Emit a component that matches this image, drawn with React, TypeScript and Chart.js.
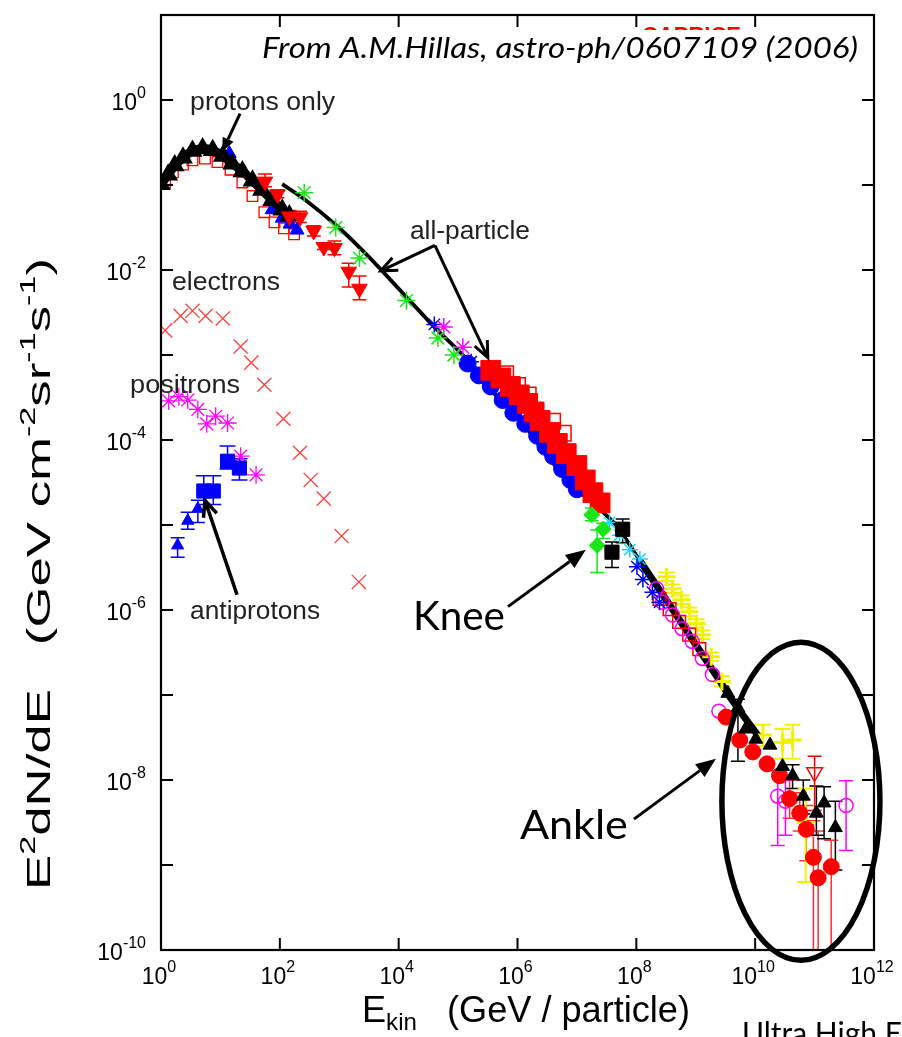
import React, { useEffect, useRef } from "react";
import { Chart, registerables } from "chart.js";
Chart.register(...registerables);

// ---------- axes (log10 exponents) ----------
const xLabelExps = [0, 2, 4, 6, 8, 10, 12];
const xTickExps = [2, 4, 6, 8, 10];
const yLabelExps = [0, -2, -4, -6, -8, -10];
const yTickExps = [0, -1, -2, -3, -4, -5, -6, -7, -8, -9];

// ---------- data: log10(E / GeV) and log10(E^2 dN/dE) ----------
const protonsOnlyLogE = [0.0, 0.12, 0.23, 0.37, 0.53, 0.7, 0.87, 1.04, 1.2, 1.37, 1.54, 1.7, 1.87, 2.04, 2.16];
const protonsOnlyLogF = [-0.99, -0.88, -0.77, -0.68, -0.6, -0.57, -0.59, -0.66, -0.75, -0.84, -0.95, -1.06, -1.18, -1.29, -1.36];

const protonsSqLogE = [0.07, 0.2, 0.37, 0.53, 0.74, 0.95, 1.17, 1.37, 1.54, 1.74, 1.91, 2.07, 2.24];
const protonsSqLogF = [-0.97, -0.85, -0.76, -0.71, -0.69, -0.73, -0.82, -0.97, -1.13, -1.32, -1.44, -1.51, -1.58];

const protonsBlueLogE = [1.15, 1.87, 2.04, 2.17, 2.29];
const protonsBlueLogF = [-0.63, -1.29, -1.39, -1.46, -1.53];

const protonsTriLogE = [1.75, 1.96, 2.16, 2.34, 2.57, 2.74, 2.92, 3.16, 3.34];
const protonsTriLogF = [-0.96, -1.11, -1.37, -1.38, -1.54, -1.73, -1.74, -2.02, -2.22];
const protonsTriLo = [-1.02, -1.15, -1.42, -1.44, -1.6, -1.76, -1.82, -2.2, -2.35];
const protonsTriHi = [-0.87, -1.06, -1.3, -1.31, -1.48, -1.7, -1.66, -1.92, -2.07];

const allParticleLogE = [2.04, 2.42, 2.99, 3.49, 4.04, 4.6, 5.16, 5.43, 6.0, 6.5, 6.94, 7.39, 7.67, 8.06, 8.55, 9.06, 9.39, 9.61, 10.06];
const allParticleLogF = [-0.99, -1.17, -1.5, -1.84, -2.25, -2.67, -3.06, -3.33, -3.72, -4.19, -4.54, -4.82, -5.01, -5.42, -5.93, -6.47, -6.82, -7.06, -7.49];

const greenAstLogE = [2.41, 2.94, 3.34, 4.13, 4.66, 4.93];
const greenAstLogF = [-1.09, -1.5, -1.86, -2.36, -2.8, -3.0];
const magentaAstLogE = [4.76, 5.08];
const magentaAstLogF = [-2.67, -2.91];
const blueAstLogE = [4.6, 5.22];
const blueAstLogF = [-2.64, -3.08];

const electronsLogE = [0.07, 0.33, 0.53, 0.75, 1.04, 1.34, 1.52, 1.74, 2.06, 2.34, 2.52, 2.74, 3.04, 3.33];
const electronsLogF = [-2.71, -2.54, -2.48, -2.54, -2.57, -2.9, -3.09, -3.35, -3.75, -4.15, -4.47, -4.69, -5.13, -5.67];

const positronsLogE = [0.13, 0.3, 0.45, 0.62, 0.77, 0.92, 1.12, 1.34, 1.6];
const positronsLogF = [-3.54, -3.49, -3.53, -3.64, -3.81, -3.72, -3.8, -4.19, -4.41];

const antiTriLogE = [0.28, 0.45, 0.62];
const antiTriLogF = [-5.24, -4.95, -4.81];
const antiTriLo = [-5.38, -5.05, -4.97];
const antiTriHi = [-5.15, -4.85, -4.71];

const antiSqLogE = [0.72, 0.88, 1.12, 1.32];
const antiSqLogF = [-4.6, -4.6, -4.25, -4.33];
const antiSqLo = [-4.76, -4.76, -4.34, -4.47];
const antiSqHi = [-4.42, -4.42, -4.07, -4.22];

const blueBandLogE = [5.16, 5.35, 5.55, 5.75, 5.93, 6.13, 6.33, 6.47, 6.6, 6.75, 6.89, 7.0];
const blueBandLogF = [-3.1, -3.24, -3.37, -3.53, -3.68, -3.81, -3.95, -4.08, -4.19, -4.34, -4.47, -4.58];

const redBandLogE = [5.55, 5.72, 5.88, 6.03, 6.17, 6.28, 6.38, 6.54, 6.67, 6.82, 7.0, 7.14, 7.27, 7.39];
const redBandLogF = [-3.18, -3.27, -3.37, -3.47, -3.57, -3.67, -3.77, -3.91, -4.04, -4.16, -4.3, -4.47, -4.62, -4.74];

const redOpenBandLogE = [5.8, 6.0, 6.18, 6.59, 6.77];
const redOpenBandLogF = [-3.22, -3.36, -3.47, -3.78, -3.92];

const kneeDiamondLogE = [7.25, 7.44, 7.34];
const kneeDiamondLogF = [-4.88, -5.05, -5.24];
const kneeDiamondLo = [-4.95, -5.16, -5.56];
const kneeDiamondHi = [-4.8, -4.98, -5.06];

const kneeSquareLogE = [7.77, 7.59];
const kneeSquareLogF = [-5.05, -5.32];
const kneeSquareLo = [-5.21, -5.5];
const kneeSquareHi = [-4.93, -5.2];

const cyanLogE = [7.55, 7.72, 7.89, 8.06];
const cyanLogF = [-4.97, -5.12, -5.29, -5.4];

const blueStarLogE = [8.01, 8.11, 8.27, 8.39];
const blueStarLogF = [-5.49, -5.64, -5.79, -5.91];

const yellowLogE = [8.51, 8.61, 8.76, 8.89, 9.01, 9.11, 9.26, 9.44, 10.13, 10.46, 10.63, 10.85];
const yellowLogF = [-5.61, -5.75, -5.88, -6.02, -6.16, -6.29, -6.55, -6.84, -7.47, -7.56, -7.53, -8.5];
const yellowLo = [-5.66, -5.8, -5.93, -6.07, -6.21, -6.34, -6.6, -6.9, -7.6, -7.75, -7.75, -9.2];
const yellowHi = [-5.56, -5.7, -5.83, -5.97, -6.11, -6.24, -6.5, -6.78, -7.35, -7.4, -7.35, -8.1];

const magentaOpenLogE = [8.34, 8.44, 8.61, 8.77, 8.94, 9.11, 9.28, 9.39];
const magentaOpenLogF = [-5.75, -5.91, -6.06, -6.22, -6.37, -6.57, -6.76, -7.19];

const redOpenLogE = [8.39, 8.56, 8.72, 8.89, 9.06];
const redOpenLogF = [-5.87, -5.99, -6.14, -6.29, -6.46];

const uheTriLogE = [9.54, 9.71, 9.84, 10.01, 10.25, 10.46, 10.63, 10.81, 11.03, 11.16, 11.35];
const uheTriLogF = [-6.98, -7.15, -7.4, -7.52, -7.59, -7.84, -7.95, -8.19, -8.39, -8.27, -8.56];
const uheTriLo = [null, -7.78, null, null, null, null, -8.1, -8.4, -8.65, -8.69, -9.06];
const uheTriHi = [null, -7.05, null, null, null, null, -7.82, -8.0, -8.07, -8.08, -8.25];

const uheRedLogE = [9.51, 9.74, 9.96, 10.2, 10.41, 10.58, 10.75, 10.86, 10.98, 11.06, 11.28];
const uheRedLogF = [-7.26, -7.53, -7.67, -7.81, -7.95, -8.22, -8.39, -8.58, -8.91, -9.15, -9.02];
const uheRedLo = [null, null, null, null, null, -8.45, -8.6, -8.95, -10, -10, -10];
const uheRedHi = [null, null, null, null, null, -8.0, -8.15, -8.3, -8.48, -8.6, -8.71];

const uheMagLogE = [10.38, 10.51, 11.53];
const uheMagLogF = [-8.19, -8.25, -8.3];
const uheMagLo = [-8.77, -8.65, -8.83];
const uheMagHi = [-7.89, -8.0, -8.01];

const uheInvLogE = [11.0];
const uheInvLogF = [-7.91];
const uheInvLo = [-8.36];
const uheInvHi = [-7.72];

// ---------- text ----------
const titleText = "From A.M.Hillas, astro-ph/0607109 (2006)";
const labelProtons = "protons only";
const labelAll = "all-particle";
const labelElectrons = "electrons";
const labelPositrons = "positrons";
const labelAnti = "antiprotons";
const labelKnee = "Knee";
const labelAnkle = "Ankle";
const labelUHE = "Ultra High Energy";

type Pt = { x: number; y: number; lo?: number; hi?: number };
function pts(le: number[], lf: number[], lo?: (number | null)[], hi?: (number | null)[]): Pt[] {
  return le.map((e, i) => {
    const p: Pt = { x: Math.pow(10, e), y: Math.pow(10, lf[i]) };
    if (lo && hi && lo[i] != null && hi[i] != null) {
      p.lo = Math.pow(10, lo[i] as number);
      p.hi = Math.pow(10, hi[i] as number);
    }
    return p;
  });
}

const RED = "#ff0000";
const BLUE = "#0000ff";
const GREEN = "#19e619";
const MAG = "#ff00ff";
const CYAN = "#18d8f0";
const YEL = "#f2f200";
const BLK = "#000000";
const NONE = "rgba(0,0,0,0)";

function mk(label: string, data: Pt[], o: any) {
  return { label, data, ...o };
}

type Seg = { t: string; size: number; dy?: number };
function drawRich(ctx: CanvasRenderingContext2D, segs: Seg[], x: number, y: number, family: string, style: string, align: string, targetW?: number) {
  let total = 0;
  const ws: number[] = [];
  for (const s of segs) {
    ctx.font = `${style}${s.size}px ${family}`;
    const w = ctx.measureText(s.t).width;
    ws.push(w);
    total += w;
  }
  const sc = targetW ? targetW / total : 1;
  const W = total * sc;
  const sx = align === "center" ? x - W / 2 : align === "right" ? x - W : x;
  ctx.save();
  ctx.translate(sx, y);
  ctx.scale(sc, 1);
  ctx.textAlign = "left";
  ctx.textBaseline = "alphabetic";
  let cx = 0;
  segs.forEach((s, i) => {
    ctx.font = `${style}${s.size}px ${family}`;
    ctx.fillText(s.t, cx, s.dy || 0);
    cx += ws[i];
  });
  ctx.restore();
}

function arrow(ctx: CanvasRenderingContext2D, x1: number, y1: number, x2: number, y2: number, filled: boolean, lw: number, head: number, hw: number) {
  const a = Math.atan2(y2 - y1, x2 - x1);
  const bx = x2 - head * Math.cos(a);
  const by = y2 - head * Math.sin(a);
  ctx.save();
  ctx.lineWidth = lw;
  ctx.strokeStyle = "#000";
  ctx.fillStyle = "#000";
  ctx.beginPath();
  ctx.moveTo(x1, y1);
  ctx.lineTo(filled ? bx : x2, filled ? by : y2);
  ctx.stroke();
  const lx = bx + hw * Math.sin(a), ly = by - hw * Math.cos(a);
  const rx = bx - hw * Math.sin(a), ry = by + hw * Math.cos(a);
  ctx.beginPath();
  if (filled) {
    ctx.moveTo(x2, y2);
    ctx.lineTo(lx, ly);
    ctx.lineTo(rx, ry);
    ctx.closePath();
    ctx.fill();
  } else {
    ctx.moveTo(lx, ly);
    ctx.lineTo(x2, y2);
    ctx.lineTo(rx, ry);
    ctx.stroke();
  }
  ctx.restore();
}

const errorBars = {
  id: "errorBars",
  beforeDatasetsDraw(chart: any) {
    const ctx: CanvasRenderingContext2D = chart.ctx;
    const xs = chart.scales.x, ys = chart.scales.y;
    const a = chart.chartArea;
    ctx.save();
    ctx.beginPath();
    ctx.rect(a.left, a.top, a.right - a.left, a.bottom - a.top);
    ctx.clip();
    chart.data.datasets.forEach((ds: any) => {
      if (!ds.errColor) return;
      ctx.strokeStyle = ds.errColor;
      ctx.lineWidth = ds.errWidth || 1.5;
      const c = ds.errCap ?? 5;
      ctx.beginPath();
      for (const p of ds.data) {
        if (p.lo == null) continue;
        const px = xs.getPixelForValue(p.x);
        const y1 = ys.getPixelForValue(p.lo);
        const y2 = ys.getPixelForValue(p.hi);
        ctx.moveTo(px, y1); ctx.lineTo(px, y2);
        ctx.moveTo(px - c, y1); ctx.lineTo(px + c, y1);
        ctx.moveTo(px - c, y2); ctx.lineTo(px + c, y2);
      }
      ctx.stroke();
    });
    ctx.restore();
  },
};

const decor = {
  id: "decor",
  afterDraw(chart: any) {
    const ctx: CanvasRenderingContext2D = chart.ctx;
    const xs = chart.scales.x, ys = chart.scales.y;
    const a = chart.chartArea;
    const X = (le: number) => xs.getPixelForValue(Math.pow(10, le));
    const Y = (lf: number) => ys.getPixelForValue(Math.pow(10, lf));
    const sans = "'Liberation Sans', Arial, sans-serif";
    const hum = "Lato, 'Open Sans', sans-serif";

    // partially hidden red label at the top
    ctx.save();
    ctx.beginPath();
    ctx.rect(600, a.top + 10, 200, 5);
    ctx.clip();
    ctx.fillStyle = RED;
    ctx.font = `bold 22px ${sans}`;
    ctx.textBaseline = "top";
    ctx.fillText("CAPRICE", 642, a.top + 10);
    ctx.restore();

    // frame & ticks
    ctx.save();
    ctx.strokeStyle = "#000";
    ctx.lineWidth = 2.2;
    ctx.strokeRect(a.left, a.top, a.right - a.left, a.bottom - a.top);
    ctx.lineWidth = 2;
    ctx.beginPath();
    for (const e of xTickExps) {
      const x = X(e);
      ctx.moveTo(x, a.bottom); ctx.lineTo(x, a.bottom - 12);
      ctx.moveTo(x, a.top); ctx.lineTo(x, a.top + 12);
    }
    for (const e of yTickExps) {
      const y = Y(e);
      ctx.moveTo(a.left, y); ctx.lineTo(a.left + 12, y);
      ctx.moveTo(a.right, y); ctx.lineTo(a.right - 12, y);
    }
    ctx.stroke();
    ctx.restore();

    // tick labels
    ctx.fillStyle = "#000";
    for (const e of yLabelExps) {
      drawRich(ctx, [{ t: "10", size: 23 }, { t: String(e), size: 16, dy: -12 }], a.left - 15, Y(e) + 10, sans, "", "right");
    }
    for (const e of xLabelExps) {
      drawRich(ctx, [{ t: "10", size: 23 }, { t: String(e), size: 16, dy: -12 }], X(e) - 2, a.bottom + 34, sans, "", "center");
    }

    // axis titles
    drawRich(ctx, [{ t: "E", size: 36 }, { t: "kin", size: 24, dy: 8 }, { t: "   (GeV / particle)", size: 36 }], 362, 1022, sans, "", "left", 328);
    ctx.save();
    ctx.translate(50, 890);
    ctx.rotate(-Math.PI / 2);
    drawRich(ctx, [
      { t: "E", size: 34 }, { t: "2", size: 22, dy: -15 }, { t: "dN/dE   (GeV cm", size: 34 },
      { t: "-2", size: 22, dy: -15 }, { t: "sr", size: 34 }, { t: "-1", size: 22, dy: -15 },
      { t: "s", size: 34 }, { t: "-1", size: 22, dy: -15 }, { t: ")", size: 34 },
    ], 0, 0, sans, "", "left", 632);
    ctx.restore();

    // title
    ctx.fillStyle = "#000";
    drawRich(ctx, [{ t: titleText, size: 28 }], 262, 58, hum, "italic ", "left", 596);

    // inline labels
    ctx.fillStyle = "#222";
    drawRich(ctx, [{ t: labelProtons, size: 26 }], X(0.49), Y(-0.117), sans, "", "left", 145);
    drawRich(ctx, [{ t: labelAll, size: 26 }], X(4.19), Y(-1.64), sans, "", "left", 120);
    drawRich(ctx, [{ t: labelElectrons, size: 26 }], X(0.185), Y(-2.24), sans, "", "left", 108);
    drawRich(ctx, [{ t: labelPositrons, size: 26 }], X(-0.52), Y(-3.45), sans, "", "left", 110);
    drawRich(ctx, [{ t: labelAnti, size: 26 }], X(0.49), Y(-6.1), sans, "", "left", 130);
    ctx.fillStyle = "#000";
    drawRich(ctx, [{ t: labelKnee, size: 40 }], X(4.24), Y(-6.24), hum, "", "left", 92);
    drawRich(ctx, [{ t: labelAnkle, size: 40 }], X(6.04), Y(-8.69), hum, "", "left", 108);
    drawRich(ctx, [{ t: labelUHE, size: 30 }], 742, 1044, hum, "", "left");

    // arrows
    arrow(ctx, X(1.33), Y(-0.16), X(1.03), Y(-0.61), true, 3, 14, 6);
    arrow(ctx, X(4.61), Y(-1.71), X(3.7), Y(-2.01), false, 3, 16, 7);
    arrow(ctx, X(4.61), Y(-1.71), X(5.5), Y(-3.03), false, 3, 16, 7);
    arrow(ctx, X(1.28), Y(-5.82), X(0.74), Y(-4.71), false, 3.5, 16, 7);
    arrow(ctx, X(5.84), Y(-5.96), X(7.15), Y(-5.29), true, 3, 20, 8);
    arrow(ctx, X(7.96), Y(-8.46), X(9.34), Y(-7.75), true, 3, 20, 8);

    // ellipse around the UHE region
    const cx = X(10.77), cy = Y(-8.25);
    const rx = cx - X(9.44), ry = cy - Y(-6.38);
    ctx.save();
    ctx.lineWidth = 5.5;
    ctx.strokeStyle = "#000";
    ctx.beginPath();
    ctx.ellipse(cx, cy, rx, ry, 0, 0, Math.PI * 2);
    ctx.stroke();
    ctx.restore();
  },
};

function buildConfig(): any {
  const datasets = [
    mk("UHE red circles", pts(uheRedLogE, uheRedLogF, uheRedLo, uheRedHi), { pointStyle: "circle", pointRadius: 8, backgroundColor: RED, borderColor: RED, borderWidth: 1, errColor: "#ff3030", errWidth: 1.5, errCap: 7, order: 2 }),
    mk("UHE triangles", pts(uheTriLogE, uheTriLogF, uheTriLo, uheTriHi), { pointStyle: "triangle", pointRadius: 8, backgroundColor: BLK, borderColor: BLK, borderWidth: 1, errColor: BLK, errWidth: 1.5, errCap: 7, order: 1 }),
    mk("UHE magenta", pts(uheMagLogE, uheMagLogF, uheMagLo, uheMagHi), { pointStyle: "circle", pointRadius: 7, backgroundColor: NONE, borderColor: MAG, borderWidth: 1.5, errColor: MAG, errWidth: 1.5, errCap: 7, order: 3 }),
    mk("UHE inverted", pts(uheInvLogE, uheInvLogF, uheInvLo, uheInvHi), { pointStyle: "triangle", rotation: 180, pointRadius: 9, backgroundColor: NONE, borderColor: RED, borderWidth: 1.5, errColor: RED, errWidth: 1.5, errCap: 7, order: 3 }),
    mk("yellow", pts(yellowLogE, yellowLogF, yellowLo, yellowHi), { pointStyle: "cross", pointRadius: 9, backgroundColor: YEL, borderColor: YEL, borderWidth: 3, errColor: YEL, errWidth: 2, errCap: 8, order: 6 }),
    mk("magenta open", pts(magentaOpenLogE, magentaOpenLogF), { pointStyle: "circle", pointRadius: 7, backgroundColor: NONE, borderColor: MAG, borderWidth: 1.5, order: 5 }),
    mk("red open", pts(redOpenLogE, redOpenLogF), { pointStyle: "rect", pointRadius: 9, backgroundColor: NONE, borderColor: RED, borderWidth: 1.5, order: 5 }),
    mk("blue stars", pts(blueStarLogE, blueStarLogF), { pointStyle: "star", pointRadius: 8, borderColor: BLUE, borderWidth: 1.5, order: 4 }),
    mk("cyan", pts(cyanLogE, cyanLogF), { pointStyle: "star", pointRadius: 8, borderColor: CYAN, borderWidth: 1.5, order: 4 }),
    mk("knee squares", pts(kneeSquareLogE, kneeSquareLogF, kneeSquareLo, kneeSquareHi), { pointStyle: "rect", pointRadius: 10, backgroundColor: BLK, borderColor: BLK, errColor: BLK, errWidth: 1.5, errCap: 7, order: 3 }),
    mk("knee diamonds", pts(kneeDiamondLogE, kneeDiamondLogF, kneeDiamondLo, kneeDiamondHi), { pointStyle: "rectRot", pointRadius: 8, backgroundColor: GREEN, borderColor: GREEN, errColor: GREEN, errWidth: 1.5, errCap: 7, order: 3 }),
    mk("red band", pts(redBandLogE, redBandLogF), { pointStyle: "rect", pointRadius: 14, backgroundColor: RED, borderColor: RED, borderWidth: 1, order: 7 }),
    mk("red open band", pts(redOpenBandLogE, redOpenBandLogF), { pointStyle: "rect", pointRadius: 11, backgroundColor: NONE, borderColor: RED, borderWidth: 1.5, order: 8 }),
    mk("blue band", pts(blueBandLogE, blueBandLogF), { pointStyle: "circle", pointRadius: 8.5, backgroundColor: BLUE, borderColor: BLUE, borderWidth: 1, order: 9 }),
    mk("antiproton squares", pts(antiSqLogE, antiSqLogF, antiSqLo, antiSqHi), { pointStyle: "rect", pointRadius: 10, backgroundColor: BLUE, borderColor: BLUE, errColor: BLUE, errWidth: 1.5, errCap: 8, order: 3 }),
    mk("antiproton triangles", pts(antiTriLogE, antiTriLogF, antiTriLo, antiTriHi), { pointStyle: "triangle", pointRadius: 7, backgroundColor: BLUE, borderColor: BLUE, errColor: BLUE, errWidth: 1.5, errCap: 7, order: 3 }),
    mk("positrons", pts(positronsLogE, positronsLogF), { pointStyle: "star", pointRadius: 9, borderColor: MAG, borderWidth: 1.3, order: 4 }),
    mk("electrons", pts(electronsLogE, electronsLogF), { pointStyle: "crossRot", pointRadius: 10, borderColor: "#ff4040", borderWidth: 1.3, order: 4 }),
    mk("green asterisks", pts(greenAstLogE, greenAstLogF), { pointStyle: "star", pointRadius: 9, borderColor: GREEN, borderWidth: 1.5, order: 4 }),
    mk("magenta asterisks", pts(magentaAstLogE, magentaAstLogF), { pointStyle: "star", pointRadius: 9, borderColor: MAG, borderWidth: 1.5, order: 4 }),
    mk("blue asterisks", pts(blueAstLogE, blueAstLogF), { pointStyle: "star", pointRadius: 8, borderColor: BLUE, borderWidth: 1.5, order: 4 }),
    mk("protons inverted", pts(protonsTriLogE, protonsTriLogF, protonsTriLo, protonsTriHi), { pointStyle: "triangle", rotation: 180, pointRadius: 9, backgroundColor: RED, borderColor: RED, errColor: RED, errWidth: 1.5, errCap: 7, order: 3 }),
    mk("protons blue", pts(protonsBlueLogE, protonsBlueLogF), { pointStyle: "triangle", pointRadius: 8, backgroundColor: BLUE, borderColor: BLUE, order: 11 }),
    mk("protons only", pts(protonsOnlyLogE, protonsOnlyLogF), { showLine: true, borderColor: BLK, borderWidth: 9, pointStyle: "triangle", pointRadius: 2.5, backgroundColor: BLK, tension: 0.4, order: 10 }),
    mk("protons squares", pts(protonsSqLogE, protonsSqLogF), { pointStyle: "rect", pointRadius: 7.5, backgroundColor: NONE, borderColor: RED, borderWidth: 1.3, order: 12 }),
    mk("all-particle", pts(allParticleLogE, allParticleLogF), {
      showLine: true, borderColor: BLK, borderWidth: 3.8, pointRadius: 0, tension: 0.35, order: 10,
      segment: { borderWidth: (c: any) => (c.p0.parsed.x > 6e7 ? 7 : 3.8) },
    }),
  ];
  return {
    type: "scatter",
    data: { datasets },
    options: {
      animation: false,
      responsive: false,
      devicePixelRatio: 1,
      layout: { padding: { left: 161, right: 28, top: 9, bottom: 87 } },
      plugins: { legend: { display: false }, tooltip: { enabled: false } },
      scales: {
        x: { type: "logarithmic", min: 1, max: 1e12, display: false },
        y: { type: "logarithmic", min: 1e-10, max: 10, display: false },
      },
    },
    plugins: [errorBars, decor],
  };
}

export default function App() {
  const ref = useRef<HTMLCanvasElement>(null);
  useEffect(() => {
    document.body.style.margin = "0";
    document.body.style.overflow = "hidden";
    const chart = new Chart(ref.current as HTMLCanvasElement, buildConfig());
    return () => chart.destroy();
  }, []);
  return (
    <div style={{ position: "absolute", left: 0, top: 0, width: 902, height: 1037, background: "#fff", overflow: "hidden" }}>
      <canvas ref={ref} width={902} height={1037} style={{ display: "block", width: 902, height: 1037 }} />
    </div>
  );
}
